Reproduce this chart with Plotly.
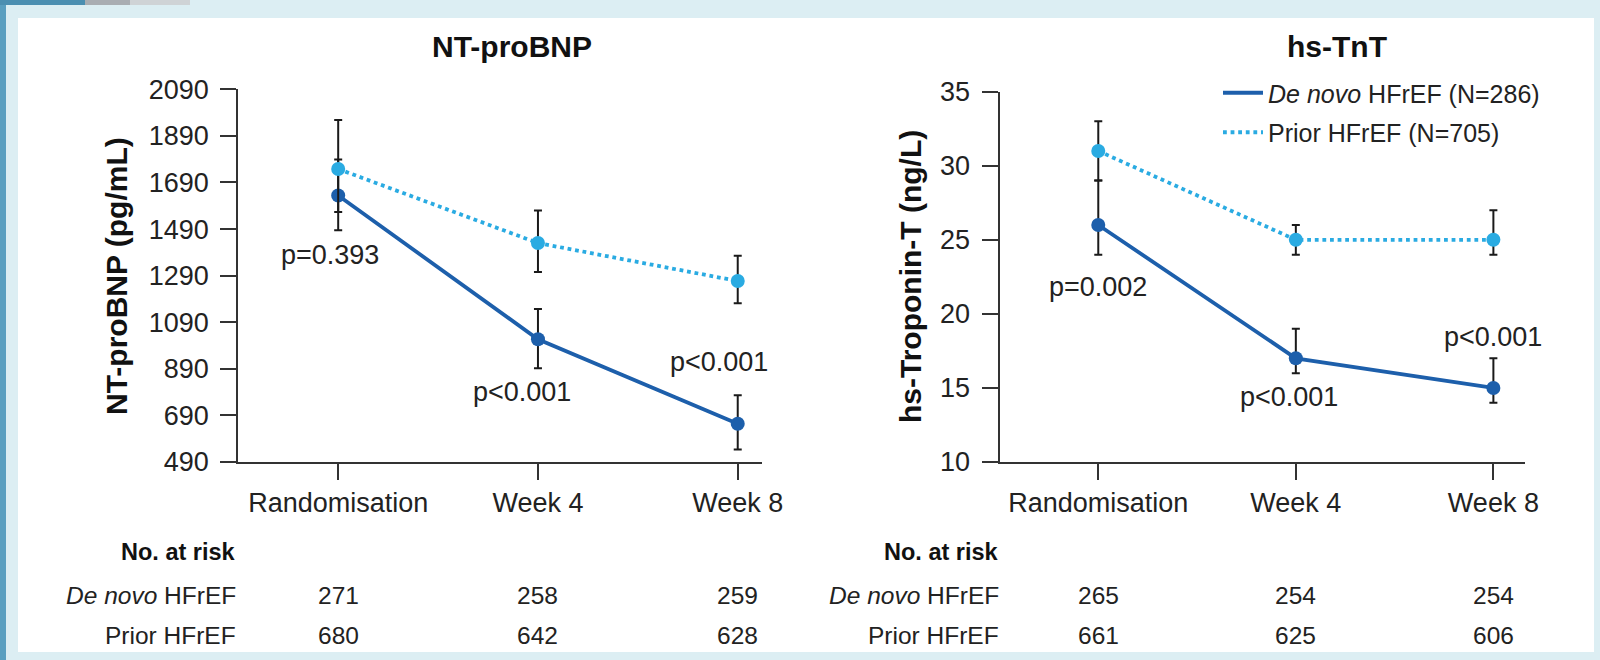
import plotly.graph_objects as go

W, H = 1600, 660

# ---------------- data ----------------
timepoints = ["Randomisation", "Week 4", "Week 8"]

# NT-proBNP (pg/mL)
ntprobnp_denovo = [1634, 1017, 654]
ntprobnp_denovo_upper = [1789, 1147, 777]
ntprobnp_denovo_lower = [1485, 893, 544]
ntprobnp_prior = [1748, 1430, 1267]
ntprobnp_prior_upper = [1958, 1570, 1375]
ntprobnp_prior_lower = [1563, 1306, 1171]
ntprobnp_pvalues = ["p=0.393", "p<0.001", "p<0.001"]
ntprobnp_ticks = [490, 690, 890, 1090, 1290, 1490, 1690, 1890, 2090]

# hs-TnT (ng/L)
tnt_denovo = [26, 17, 15]
tnt_denovo_upper = [29, 19, 17]
tnt_denovo_lower = [24, 16, 14]
tnt_prior = [31, 25, 25]
tnt_prior_upper = [33, 26, 27]
tnt_prior_lower = [29, 24, 24]
tnt_pvalues = ["p=0.002", "p<0.001", "p<0.001"]
tnt_ticks = [10, 15, 20, 25, 30, 35]

# numbers at risk
risk_ntprobnp_denovo = [271, 258, 259]
risk_ntprobnp_prior = [680, 642, 628]
risk_tnt_denovo = [265, 254, 254]
risk_tnt_prior = [661, 625, 606]

legend_denovo = "<i>De novo</i> HFrEF (N=286)"
legend_prior = "Prior HFrEF (N=705)"
row_denovo = "<i>De novo</i> HFrEF"
row_prior = "Prior HFrEF"

# ---------------- layout helpers (positions / styles) ----------------
FONT = "Liberation Sans, Arial, Helvetica, sans-serif"
TXT = "#222222"
AX = "#333333"
C_DENOVO = "#1d5fab"
C_PRIOR = "#2aabe2"
TICK_FS = 27
P_FS = 27
TAB_FS = 24.5
HEAD_FS = 23.5
LEG_FS = 25
TITLE_FS = 30


def px(x):
    return x / W


def py(y):
    return 1 - y / H


xi = list(range(len(timepoints)))


def err(v, up, lo):
    return dict(type="data", symmetric=False,
                array=[u - a for u, a in zip(up, v)],
                arrayminus=[a - l for a, l in zip(v, lo)],
                color="#1a1a1a", thickness=2, width=4)


fig = go.Figure()

panels = [
    ("x", "y", ntprobnp_denovo, ntprobnp_denovo_upper, ntprobnp_denovo_lower,
     ntprobnp_prior, ntprobnp_prior_upper, ntprobnp_prior_lower),
    ("x2", "y2", tnt_denovo, tnt_denovo_upper, tnt_denovo_lower,
     tnt_prior, tnt_prior_upper, tnt_prior_lower),
]
for xa, ya, dn, dnu, dnl, pr, pru, prl in panels:
    fig.add_trace(go.Scatter(
        x=xi, y=dn, xaxis=xa, yaxis=ya, mode="lines+markers",
        line=dict(color=C_DENOVO, width=3.8),
        marker=dict(color=C_DENOVO, size=14),
        error_y=err(dn, dnu, dnl), showlegend=False))
    fig.add_trace(go.Scatter(
        x=xi, y=pr, xaxis=xa, yaxis=ya, mode="lines+markers",
        line=dict(color=C_PRIOR, width=3.8, dash="dot"),
        marker=dict(color=C_PRIOR, size=14),
        error_y=err(pr, pru, prl), showlegend=False))

# legend-only traces
fig.add_trace(go.Scatter(x=[None], y=[None], xaxis="x2", yaxis="y2", mode="lines",
                         line=dict(color=C_DENOVO, width=3.8), name=legend_denovo,
                         legendgroup="a"))
fig.add_trace(go.Scatter(x=[None], y=[None], xaxis="x2", yaxis="y2", mode="lines",
                         line=dict(color=C_PRIOR, width=3.8, dash="dot"), name=legend_prior,
                         legendgroup="b"))

common_x = dict(tickvals=xi, ticktext=timepoints, showline=True, linecolor=AX, linewidth=2,
                ticks="outside", ticklen=16, tickwidth=2, tickcolor=AX, showgrid=False,
                zeroline=False, tickfont=dict(size=TICK_FS, color=TXT, family=FONT),
                fixedrange=True, automargin=False)
common_y = dict(showline=True, linecolor=AX, linewidth=2, ticks="outside", ticklen=16,
                tickwidth=2, tickcolor=AX, showgrid=False, zeroline=False,
                tickfont=dict(size=TICK_FS, color=TXT, family=FONT), ticklabelstandoff=6,
                fixedrange=True, automargin=False)

fig.update_layout(
    width=W, height=H,
    margin=dict(l=0, r=0, t=0, b=0, pad=0, autoexpand=False),
    paper_bgcolor="#dceef3",
    plot_bgcolor="white",
    font=dict(family=FONT, color=TXT),
    xaxis=dict(domain=[px(238.3), px(761.7)], range=[-0.5, 2.12], anchor="y", **common_x),
    yaxis=dict(domain=[py(462), py(89.3)], range=[490, 2090], tickvals=ntprobnp_ticks,
               anchor="x", **common_y),
    xaxis2=dict(domain=[px(999.5), px(1525)], range=[-0.5, 2.16], anchor="y2", **common_x),
    yaxis2=dict(domain=[py(462), py(91.7)], range=[10, 35], tickvals=tnt_ticks,
                anchor="x2", **common_y),
    legend=dict(x=px(1218), y=py(70), xanchor="left", yanchor="top",
                bgcolor="rgba(0,0,0,0)", font=dict(size=LEG_FS, color=TXT, family=FONT),
                itemwidth=40, traceorder="grouped", tracegroupgap=4),
    showlegend=True,
)

# background decoration
shapes = [
    dict(type="rect", xref="paper", yref="paper", x0=px(18), x1=px(1594), y0=py(652), y1=py(18),
         fillcolor="white", line=dict(width=0), layer="below"),
    dict(type="rect", xref="paper", yref="paper", x0=0, x1=px(6), y0=0, y1=1,
         fillcolor="#5a9fc0", line=dict(width=0), layer="below"),
    dict(type="rect", xref="paper", yref="paper", x0=0, x1=px(85), y0=py(5), y1=1,
         fillcolor="#4b8fb1", line=dict(width=0), layer="below"),
    dict(type="rect", xref="paper", yref="paper", x0=px(85), x1=px(130), y0=py(5), y1=1,
         fillcolor="#a9adb2", line=dict(width=0), layer="below"),
    dict(type="rect", xref="paper", yref="paper", x0=px(130), x1=px(190), y0=py(5), y1=1,
         fillcolor="#cfd3d6", line=dict(width=0), layer="below"),
]
fig.update_layout(shapes=shapes)

ann = []


def A(**kw):
    kw.setdefault("xanchor", "center")
    kw.setdefault("yanchor", "middle")
    kw.setdefault("showarrow", False)
    ann.append(kw)


# titles
A(text="<b>NT-proBNP</b>", x=px(512), y=py(46), xref="paper", yref="paper",
  font=dict(size=TITLE_FS, color="#111"))
A(text="<b>hs-TnT</b>", x=px(1337), y=py(46), xref="paper", yref="paper",
  font=dict(size=TITLE_FS, color="#111"))
# y axis titles
A(text="<b>NT-proBNP (pg/mL)</b>", x=px(116), y=py(276), xref="paper", yref="paper",
  textangle=-90, font=dict(size=30, color="#111"))
A(text="<b>hs-Troponin-T (ng/L)</b>", x=px(910), y=py(277), xref="paper", yref="paper",
  textangle=-90, font=dict(size=30, color="#111"))

# p-values (label placement)
p_pos_left = [(1379, -8), (792, -16), (920, -19)]
p_pos_right = [(21.83, 0), (14.4, -7), (18.46, 0)]
for i, (t, (yy, sh)) in enumerate(zip(ntprobnp_pvalues, p_pos_left)):
    A(text=t, x=xi[i], y=yy, xref="x", yref="y", xshift=sh, font=dict(size=P_FS, color=TXT))
for i, (t, (yy, sh)) in enumerate(zip(tnt_pvalues, p_pos_right)):
    A(text=t, x=xi[i], y=yy, xref="x2", yref="y2", xshift=sh, font=dict(size=P_FS, color=TXT))

# numbers at risk tables
row_y = [py(552), py(595), py(635)]
for xa, lab_x, dn, pr in [("x", 238, risk_ntprobnp_denovo, risk_ntprobnp_prior),
                          ("x2", 1001, risk_tnt_denovo, risk_tnt_prior)]:
    A(text="<b>No. at risk</b>", x=px(lab_x), y=row_y[0], xref="paper", yref="paper",
      xanchor="right", font=dict(size=HEAD_FS, color="#111"))
    A(text=row_denovo, x=px(lab_x), y=row_y[1], xref="paper", yref="paper",
      xanchor="right", font=dict(size=TAB_FS, color=TXT))
    A(text=row_prior, x=px(lab_x), y=row_y[2], xref="paper", yref="paper",
      xanchor="right", font=dict(size=TAB_FS, color=TXT))
    for i in xi:
        A(text=str(dn[i]), x=i, y=row_y[1], xref=xa, yref="paper",
          font=dict(size=TAB_FS, color=TXT))
        A(text=str(pr[i]), x=i, y=row_y[2], xref=xa, yref="paper",
          font=dict(size=TAB_FS, color=TXT))

fig.update_layout(annotations=ann)

fig.write_html("out.html")
